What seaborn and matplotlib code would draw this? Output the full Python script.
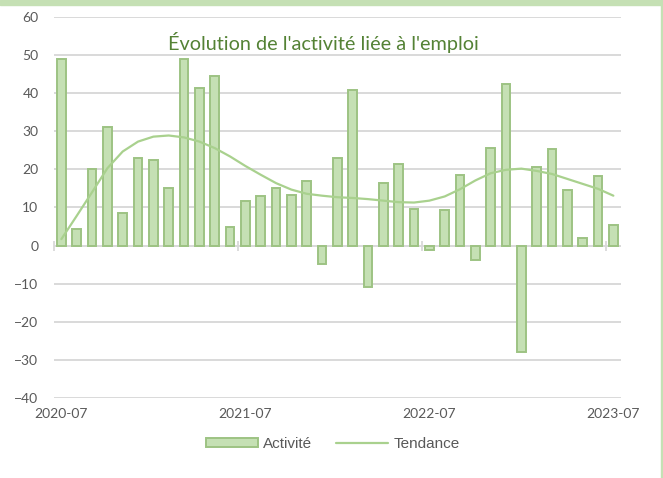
import seaborn as sns
import matplotlib.pyplot as plt
import matplotlib.patches as mpatches
import pandas as pd

# monthly values, 2020-07 .. 2023-07
months = pd.period_range('2020-07', '2023-07', freq='M').strftime('%Y-%m').tolist()
activite = [49.0, 4.3, 20.0, 31.2, 8.5, 23.0, 22.5, 15.0, 49.1, 41.3, 44.5, 4.8,
	11.8, 12.9, 15.1, 13.3, 17.0, -4.8, 23.0, 40.9, -10.8, 16.3, 21.5, 9.7,
	-1.2, 9.3, 18.5, -3.9, 25.7, 42.5, -27.9, 20.5, 25.4, 14.5, 1.9, 18.3, 5.5]
tendance = [1.7, 7.8, 14.0, 20.3, 24.7, 27.3, 28.6, 28.9, 28.4, 27.3, 25.6, 23.4,
	20.9, 18.6, 16.4, 14.7, 13.6, 13.1, 12.7, 12.5, 12.2, 11.8, 11.4, 11.3,
	11.8, 12.9, 14.8, 17.1, 19.0, 19.9, 20.2, 19.6, 18.8, 17.5, 16.2, 14.9, 13.1]
label_months = ['2020-07', '2021-07', '2022-07', '2023-07']
yticks = list(range(-40, 61, 10))

df = pd.DataFrame({'mois': months, 'activite': activite, 'tendance': tendance})
df['pos'] = range(len(df))

bar_fill = '#C5E0B4'
bar_edge = '#9DC383'
line_col = '#A9D18E'
grid_col = '#D9D9D9'
text_col = '#595959'

sns.set_style('white')
plt.rcParams['font.family'] = ['Lato', 'DejaVu Sans']

fig = plt.figure(figsize=(6.63, 4.78), dpi=100)
ax = fig.add_axes([0.081, 0.1674, 0.8557, 0.797])

sns.barplot(data=df, x='mois', y='activite', color=bar_fill, saturation=1,
	width=0.55, edgecolor=bar_edge, linewidth=1.4, label='Activité', ax=ax)
sns.lineplot(data=df, x='pos', y='tendance', color=line_col, linewidth=1.6,
	label='Tendance', ax=ax)

ax.set_xlim(-0.5, len(months) - 0.5)
ax.set_ylim(-40, 60)
ax.set_yticks(yticks)
ax.yaxis.grid(True, color=grid_col, linewidth=1.4)
ax.xaxis.grid(False)
ax.set_axisbelow(True)
for s in ax.spines.values():
	s.set_visible(False)

label_pos = [months.index(m) for m in label_months]
ax.set_xticks(label_pos, labels=label_months)
ax.tick_params(axis='x', length=0, pad=7, labelsize=10, labelcolor=text_col)
ax.tick_params(axis='y', length=0, pad=11, labelsize=10, labelcolor=text_col)
ax.set_xlabel('')
ax.set_ylabel('')

# category boundary ticks on the zero line
zero_axis = ax.secondary_xaxis(0.4)
zero_axis.set_xticks([p - 0.5 for p in label_pos])
zero_axis.set_xticklabels([])
zero_axis.tick_params(direction='inout', length=7, width=1.3, color=grid_col)
for s in zero_axis.spines.values():
	s.set_visible(False)

ax.text(0.475, 0.934, "Évolution de l'activité liée à l'emploi", transform=ax.transAxes,
	ha='center', va='center', fontsize=14.3, color='#548235')

handles, labels = ax.get_legend_handles_labels()
order = [labels.index('Activité'), labels.index('Tendance')]
if ax.get_legend() is not None:
	ax.get_legend().remove()
fig.legend([handles[i] for i in order], [labels[i] for i in order], loc='center',
	bbox_to_anchor=(0.502, 0.071), ncol=2, frameon=False, handlelength=3.4,
	handleheight=0.55, handletextpad=0.35, columnspacing=1.55,
	prop={'family': 'Liberation Sans', 'size': 11}, labelcolor=text_col)

# chart border remnants (top band and right edge)
fig.patches.append(mpatches.Rectangle((0, 1 - 5 / 478), 1, 5 / 478, transform=fig.transFigure,
	color=bar_fill, zorder=0))
fig.patches.append(mpatches.Rectangle((660.5 / 663, 0), 1.5 / 663, 1, transform=fig.transFigure,
	color=bar_fill, zorder=0))

fig.savefig('out.png', dpi=100)
plt.close('all')
